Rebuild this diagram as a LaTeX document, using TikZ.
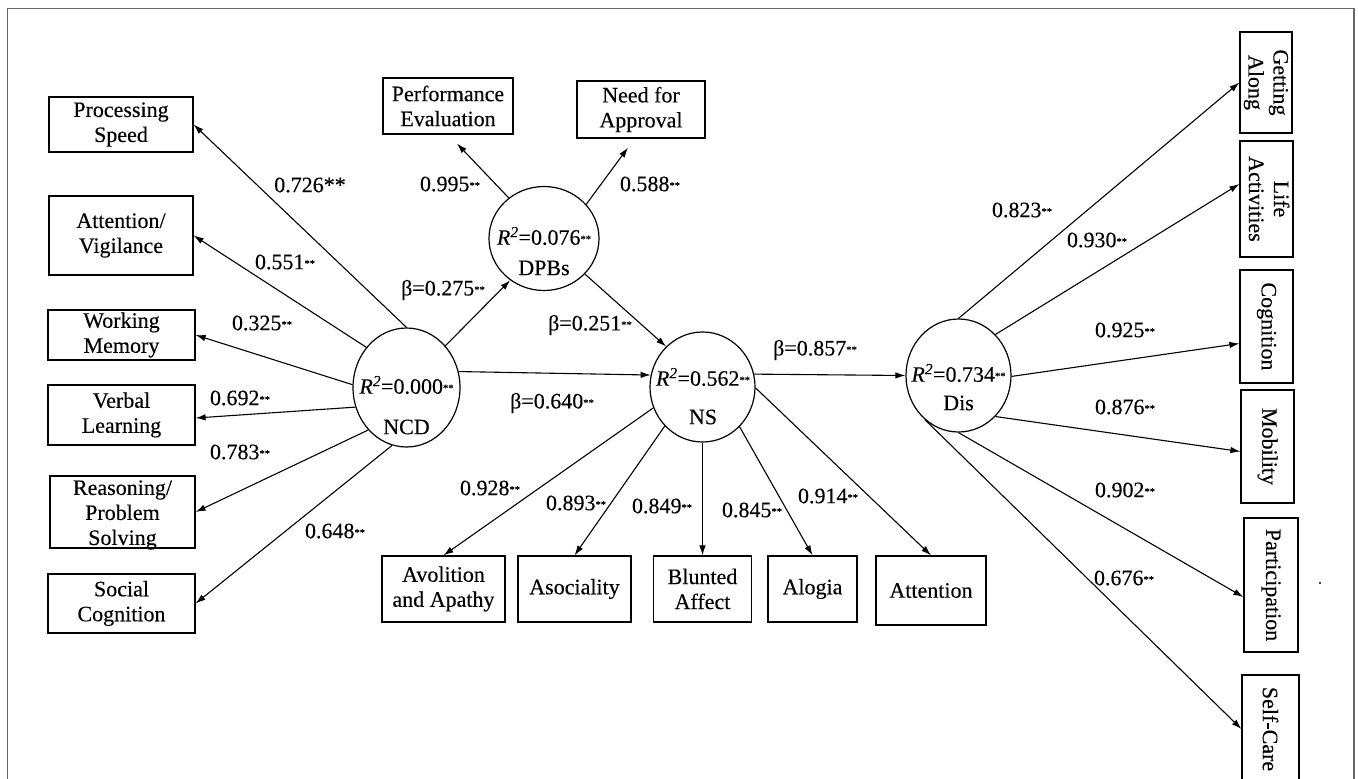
\documentclass[tikz,border=0pt]{standalone}
\usepackage{fontspec}
\setmainfont{Liberation Serif}[FakeBold=0.25]
\usetikzlibrary{arrows.meta,calc,shapes.geometric}
\newcommand{\st}{\raisebox{2.2pt}{\fontsize{10.5}{10.5}\selectfont **}}
\newcommand{\Rsq}{\textit{R}\textsuperscript{\textit{2}}}
\begin{document}
\begin{tikzpicture}[x=1pt,y=-1pt,
  font=\fontsize{22}{25}\selectfont,
  box/.style={draw, line width=1.2pt, inner sep=0pt, align=center},
  circ/.style={draw, ellipse, line width=1.2pt, inner sep=0pt},
  lab/.style={inner sep=0pt},
  arr/.style={-{Latex[length=10pt,width=6.5pt]}, line width=1.1pt},
  frame/.style={draw=black!60, line width=1.6pt}]
\useasboundingbox (0,0) rectangle (1358,779);
\clip (0,0) rectangle (1358,779);
\fill[white] (0,0) rectangle (1358,779);
\draw[frame] (7.5,790) -- (7.5,8.5) -- (1354,8.5) -- (1354,790);

% left boxes
\node[box,minimum width=144pt,minimum height=55pt] (ps) at (121,124.5) {Processing\\Speed};
\node[box,minimum width=144pt,minimum height=79pt] (av) at (121,235.5) {Attention/\\Vigilance};
\node[box,minimum width=147pt,minimum height=50pt] (wm) at (121.5,335) {Working\\Memory};
\node[box,minimum width=147pt,minimum height=60pt] (vl) at (121.5,415) {Verbal\\Learning};
\node[box,minimum width=145pt,minimum height=72pt] (rp) at (122.5,512) {};
\node[lab,align=center] (rpt) at (122.5,515) {Reasoning/\\Problem\\Solving};
\node[box,minimum width=147pt,minimum height=59pt] (sc) at (121.5,603.5) {Social\\Cognition};

% top boxes
\node[box,minimum width=130pt,minimum height=56pt] (pe) at (448,106) {Performance\\Evaluation};
\node[box,minimum width=128pt,minimum height=57pt] (na) at (641,109.5) {Need for\\Approval};

% bottom boxes
\node[box,minimum width=123pt,minimum height=66pt] (aa) at (443.5,589) {Avolition\\and Apathy};
\node[box,minimum width=113pt,minimum height=66pt] (as) at (574.5,589) {Asociality};
\node[box,minimum width=98pt,minimum height=66pt] (ba) at (702.5,589) {Blunted\\Affect};
\node[box,minimum width=89pt,minimum height=66pt] (al) at (812.5,589) {Alogia};
\node[box,minimum width=110pt,minimum height=69pt] (at) at (931,590.5) {Attention};

% right boxes
\node[box,minimum width=52pt,minimum height=101pt] (ga) at (1266,82.5) {\rotatebox{-90}{\begin{tabular}{@{}c@{}}Getting\\Along\end{tabular}}};
\node[box,minimum width=53pt,minimum height=116pt] (la) at (1266.5,199) {\rotatebox{-90}{\begin{tabular}{@{}c@{}}Life\\Activities\end{tabular}}};
\node[box,minimum width=53pt,minimum height=113pt] (cg) at (1266.5,326.5) {\rotatebox{-90}{Cognition}};
\node[box,minimum width=53pt,minimum height=113pt] (mb) at (1267.5,446.5) {\rotatebox{-90}{Mobility}};
\node[box,minimum width=54pt,minimum height=134pt] (pa) at (1271,585) {\rotatebox{-90}{Participation}};
\node[box,minimum width=57pt,minimum height=108pt] (scare) at (1270.5,729) {\rotatebox{-90}{Self-Care}};

% latent variables
\node[circ,minimum width=107pt,minimum height=119pt] (ncd) at (406.5,387.5) {};
\node[lab] (ncdr) at (406.5,385) {\Rsq=0.000\st};
\node[lab] (ncdn) at (406.5,427) {NCD};
\node[circ,minimum width=110pt,minimum height=104pt] (dpb) at (544,238.5) {};
\node[lab] (dpbr) at (544,236) {\Rsq=0.076\st};
\node[lab] (dpbn) at (544,268) {DPBs};
\node[circ,minimum width=105pt,minimum height=110pt] (ns) at (702.5,387) {};
\node[lab] (nsr) at (703,377) {\Rsq=0.562\st};
\node[lab] (nsn) at (703,417) {NS};
\node[circ,minimum width=105pt,minimum height=113pt] (dis) at (958.5,375.5) {};
\node[lab] (disr) at (958.5,373) {\Rsq=0.734\st};
\node[lab] (disn) at (958.5,403) {Dis};

% arrows
\draw[arr] (ncd.90) -- (ps.east);
\draw[arr] (ncd.135) -- (av.east);
\draw[arr] (ncd.177) -- (wm.east);
\draw[arr] (ncd.201) -- ($(vl.east)+(0,3)$);
\draw[arr] (ncd.228) -- (rp.east);
\draw[arr] (ncd.256) -- (sc.east);
\draw[arr] (ncd.47) -- (dpb.231);
\draw[arr] (ncd.17) -- (ns.167);
\draw[arr] (dpb.131) -- ($(pe.south)+(9,9)$);
\draw[arr] (dpb.39) -- ($(na.south)+(-13,9)$);
\draw[arr] (dpb.319) -- (ns.132);
\draw[arr] (ns.14) -- (dis.180);
\draw[arr] (ns.203) -- (aa.north);
\draw[arr] (ns.226) -- (as.north);
\draw[arr] (ns.270) -- (ba.north);
\draw[arr] (ns.313) -- (al.north);
\draw[arr] (ns.359) -- (at.north);
\draw[arr] (dis.90) -- (ga.west);
\draw[arr] (dis.48) -- ($(la.west)+(0,-15)$);
\draw[arr] (dis.359) -- ($(cg.west)+(0,17)$);
\draw[arr] (dis.312) -- ($(mb.west)+(0,5)$);
\draw[arr] (dis.270) -- ($(pa.west)+(0,12)$);
\draw[arr] (dis.233) -- (scare.west);

% labels
\node[lab] (l1) at (310,185) {0.726**};
\node[lab] (l2) at (285,262) {0.551\st};
\node[lab] (l3) at (262,323) {0.325\st};
\node[lab] (l4) at (240,398) {0.692\st};
\node[lab] (l5) at (240,452) {0.783\st};
\node[lab] (l6) at (335,531) {0.648\st};
\node[lab] (l7) at (443,290) {β=0.275\st};
\node[lab] (l8) at (552,403) {β=0.640\st};
\node[lab] (l9) at (450,184) {0.995\st};
\node[lab] (l10) at (650,184) {0.588\st};
\node[lab] (l11) at (590,325) {β=0.251\st};
\node[lab] (l12) at (815,350) {β=0.857\st};
\node[lab] (l13) at (490,488) {0.928\st};
\node[lab] (l14) at (576,503) {0.893\st};
\node[lab] (l15) at (662,506) {0.849\st};
\node[lab] (l16) at (752,510) {0.845\st};
\node[lab] (l17) at (828,496) {0.914\st};
\node[lab] (l18) at (1022,210) {0.823\st};
\node[lab] (l19) at (1097,240) {0.930\st};
\node[lab] (l20) at (1125,330) {0.925\st};
\node[lab] (l21) at (1125,407) {0.876\st};
\node[lab] (l22) at (1125,490) {0.902\st};
\node[lab] (l23) at (1124,578) {0.676\st};
\fill (1320,583) circle (1.2pt);
\end{tikzpicture}
\end{document}
